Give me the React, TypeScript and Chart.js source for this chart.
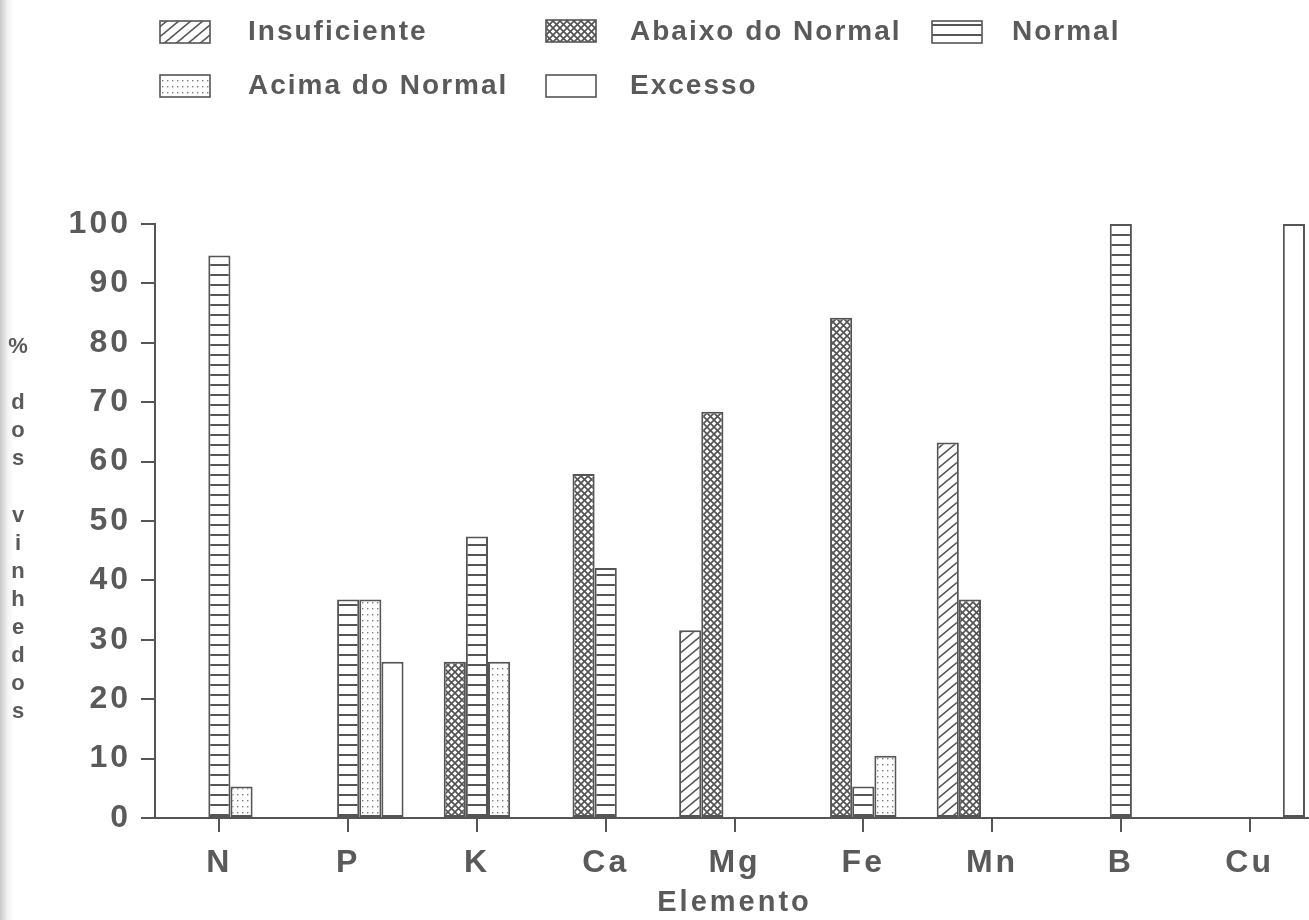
import React, { useEffect, useRef } from "react";
import { Chart, registerables } from "chart.js";

Chart.register(...registerables);

const categories = ["N", "P", "K", "Ca", "Mg", "Fe", "Mn", "B", "Cu"];
const seriesNames = ["Insuficiente", "Abaixo do Normal", "Normal", "Acima do Normal", "Excesso"];
const insuficiente = [null, null, null, null, 31.6, null, 63.2, null, null];
const abaixoDoNormal = [null, null, 26.3, 57.9, 68.4, 84.2, 36.8, null, null];
const normal = [94.7, 36.8, 47.4, 42.1, null, 5.3, null, 100, null];
const acimaDoNormal = [5.3, 36.8, 26.3, null, null, 10.5, null, null, null];
const excesso = [null, 26.3, null, null, null, null, null, null, 100];
const yTicks = [0, 10, 20, 30, 40, 50, 60, 70, 80, 90, 100];
const yTitle = "% dos vinhedos";
const xTitle = "Elemento";

const INK = "#555555";
const TEXT = "#5a5a5a";
const FONT = "'Liberation Sans', Arial, Helvetica, sans-serif";

function makePattern(kind: string): CanvasPattern | string {
  const c = document.createElement("canvas");
  const g = c.getContext("2d") as CanvasRenderingContext2D;
  if (kind === "diag") {
    const w = 12, h = 10;
    c.width = w; c.height = h;
    g.fillStyle = "#fff"; g.fillRect(0, 0, w, h);
    g.strokeStyle = INK; g.lineWidth = 1.6;
    for (let k = -2; k <= 2; k++) {
      g.beginPath();
      g.moveTo(-w, h + h + k * h);
      g.lineTo(2 * w, h - 2 * h + k * h);
      g.stroke();
    }
  } else if (kind === "cross") {
    const s = 7;
    c.width = s; c.height = s;
    g.fillStyle = "#fff"; g.fillRect(0, 0, s, s);
    g.strokeStyle = INK; g.lineWidth = 1.7;
    for (let k = -2; k <= 2; k++) {
      g.beginPath(); g.moveTo(-s, -s + k * s); g.lineTo(2 * s, 2 * s + k * s); g.stroke();
      g.beginPath(); g.moveTo(-s, 2 * s + k * s); g.lineTo(2 * s, -s + k * s); g.stroke();
    }
  } else if (kind === "horiz") {
    c.width = 10; c.height = 10;
    g.fillStyle = "#fff"; g.fillRect(0, 0, 10, 10);
    g.fillStyle = INK; g.fillRect(0, 4, 10, 2);
  } else if (kind === "dots") {
    c.width = 5; c.height = 6;
    g.fillStyle = "#fff"; g.fillRect(0, 0, 5, 6);
    g.fillStyle = "#7a7a7a"; g.fillRect(2, 2, 1.4, 1.4);
  } else {
    return "#ffffff";
  }
  const p = g.createPattern(c, "repeat");
  return p ? p : "#ffffff";
}

const legendPlugin = {
  id: "customLegend",
  afterDraw(chart: any, _args: any, opts: any) {
    const ctx: CanvasRenderingContext2D = chart.ctx;
    const fills: any[] = opts.fills;
    const slots = [
      { bx: 160, by: 21, tx: 248, cy: 32 },
      { bx: 546, by: 20, tx: 630, cy: 32 },
      { bx: 932, by: 21, tx: 1012, cy: 32 },
      { bx: 160, by: 75, tx: 248, cy: 86 },
      { bx: 546, by: 75, tx: 630, cy: 86 },
    ];
    ctx.save();
    (ctx as any).letterSpacing = "2px";
    ctx.font = `bold 28px ${FONT}`;
    ctx.textBaseline = "middle";
    ctx.textAlign = "left";
    seriesNames.forEach((name, i) => {
      const s = slots[i];
      ctx.fillStyle = fills[i];
      ctx.fillRect(s.bx, s.by, 50, 22);
      ctx.strokeStyle = INK;
      ctx.lineWidth = 1.6;
      ctx.strokeRect(s.bx, s.by, 50, 22);
      ctx.fillStyle = TEXT;
      ctx.fillText(name, s.tx, s.cy);
    });
    // stacked y-axis title
    ctx.font = `bold 22px ${FONT}`;
    (ctx as any).letterSpacing = "0px";
    ctx.textAlign = "center";
    const chars = ["%", "", ...yTitle.slice(2).split("")];
    let y = 347;
    chars.forEach((ch) => {
      if (ch.trim()) ctx.fillText(ch, 18, y);
      y += 28.1;
    });
    ctx.restore();
  },
};

const spacingPlugin = {
  id: "letterSpacing",
  beforeUpdate(chart: any) { (chart.ctx as any).letterSpacing = "3px"; },
  beforeDraw(chart: any) {
    (chart.ctx as any).letterSpacing = "3px";
  },
};

export default function App() {
  const ref = useRef<HTMLCanvasElement | null>(null);
  useEffect(() => {
    const canvas = ref.current;
    if (!canvas) return;
    const fills = [makePattern("diag"), makePattern("cross"), makePattern("horiz"), makePattern("dots"), makePattern("none")];
    const dataArrays = [insuficiente, abaixoDoNormal, normal, acimaDoNormal, excesso];
    const chart = new Chart(canvas, {
      type: "bar",
      data: {
        labels: categories,
        datasets: seriesNames.map((name, i) => ({
          label: name,
          data: dataArrays[i] as any,
          backgroundColor: fills[i] as any,
          borderColor: INK,
          borderWidth: 2,
          borderSkipped: false,
          barPercentage: 1,
          categoryPercentage: 0.86,
        })),
      },
      options: {
        responsive: false,
        animation: false,
        devicePixelRatio: 1,
        layout: { padding: { left: 0, top: 224, right: 16, bottom: 0 } },
        plugins: {
          legend: { display: false },
          tooltip: { enabled: false },
          customLegend: { fills },
        } as any,
        scales: {
          x: {
            offset: true,
            grid: { offset: false, drawOnChartArea: false, drawTicks: true, tickLength: 14, color: INK, lineWidth: 2 },
            border: { display: true, color: INK, width: 2 },
            ticks: { color: TEXT, font: { family: FONT, size: 32, weight: "bold" }, padding: 12, maxRotation: 0, autoSkip: false },
            title: { display: true, text: xTitle, color: TEXT, font: { family: FONT, size: 29, weight: "bold" }, padding: { top: 0, bottom: 0 } },
            afterFit: (s: any) => { s.height = 102; },
          },
          y: {
            min: 0,
            max: 100,
            afterBuildTicks: (s: any) => { s.ticks = yTicks.map((v) => ({ value: v })); },
            grid: { drawOnChartArea: false, drawTicks: true, tickLength: 14, color: INK, lineWidth: 2 },
            border: { display: true, color: INK, width: 2 },
            ticks: { color: TEXT, font: { family: FONT, size: 32, weight: "bold" }, padding: 10 },
            afterFit: (s: any) => { s.width = 155; },
          },
        },
      },
      plugins: [spacingPlugin, legendPlugin],
    });
    return () => chart.destroy();
  }, []);
  return (
    <div
      style={{
        position: "fixed",
        left: 0,
        top: 0,
        width: 1309,
        height: 920,
        overflow: "hidden",
        background: "linear-gradient(to right, #c9c9c9 0px, #f4f4f4 8px, #ffffff 14px)",
      }}
    >
      <canvas ref={ref} width={1330} height={920} style={{ display: "block" }} />
    </div>
  );
}
